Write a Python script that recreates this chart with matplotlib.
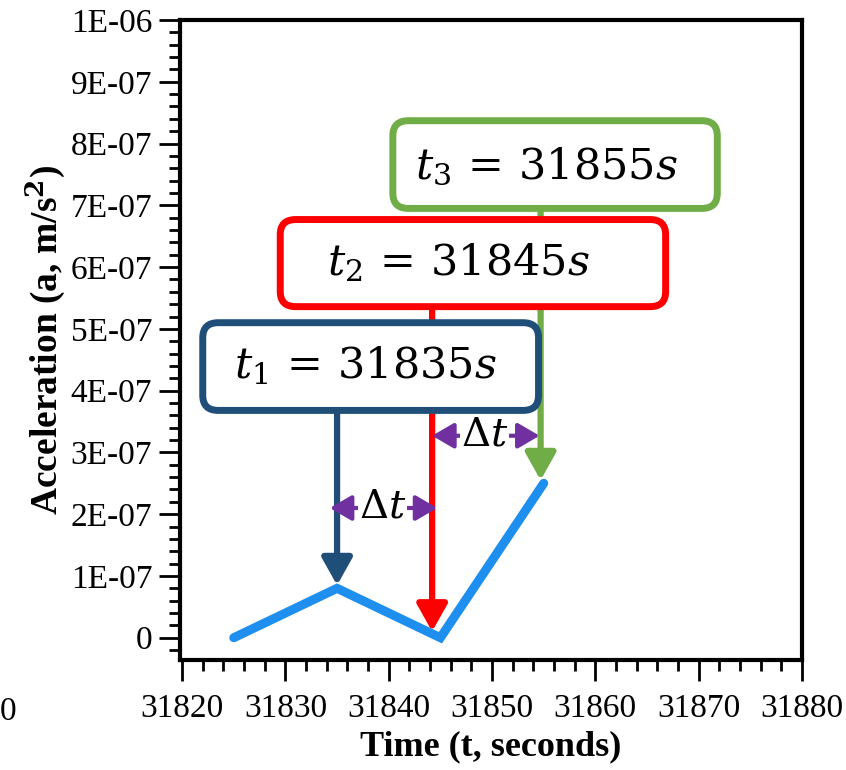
import matplotlib
matplotlib.use("Agg")
import matplotlib.pyplot as plt
from matplotlib.patches import FancyBboxPatch
from matplotlib.ticker import MultipleLocator, FixedLocator, FixedFormatter

plt.rcParams['font.family'] = ['Liberation Serif', 'DejaVu Serif']
plt.rcParams['mathtext.fontset'] = 'dejavuserif'

# ---- data ----
time_s = [31825, 31835, 31845, 31855]
accel = [0.0, 8.0e-8, 0.0, 2.5e-7]

y_ticks = [0, 1e-7, 2e-7, 3e-7, 4e-7, 5e-7, 6e-7, 7e-7, 8e-7, 9e-7, 1e-6]
y_tick_labels = ["0", "1E-07", "2E-07", "3E-07", "4E-07", "5E-07",
                 "6E-07", "7E-07", "8E-07", "9E-07", "1E-06"]
x_ticks = [31820, 31830, 31840, 31850, 31860, 31870, 31880]
x_tick_labels = ["31820", "31830", "31840", "31850", "31860", "31870", "31880"]

# annotation callouts: label, arrow x, arrow tip y, box (x0, x1, y0, y1), color
callout_labels = [r"$t_1\,=\,31835s$", r"$t_2\,=\,31845s$", r"$t_3\,=\,31855s$"]
callout_arrow_x = [31835.0, 31844.2, 31854.7]
callout_tip_y = [0.85e-7, 0.1e-7, 2.55e-7]
callout_box_x = [(31822.0, 31854.5), (31829.5, 31866.8), (31840.4, 31871.8)]
callout_box_y = [(3.68e-7, 5.1e-7), (5.36e-7, 6.77e-7), (6.95e-7, 8.37e-7)]
callout_text_xy = [(31837.7, 4.39e-7), (31846.7, 6.07e-7), (31855.3, 7.63e-7)]
callout_colors = ["#1F4E79", "#FF0000", "#70AD47"]

dt_spans = [(31834.3, 31844.7, 2.1e-7), (31844.2, 31854.6, 3.27e-7)]
dt_text_x = [31839.4, 31849.3]

fig = plt.figure(figsize=(8.46, 7.70), dpi=100)
ax = fig.add_axes([0.2128, 0.1429, 0.7352, 0.8311])

ax.set_xlim(31819.8, 31880)
ax.set_ylim(-3.6e-8, 1e-6)

ax.plot(time_s, accel, color="#1E8FEF", lw=6.5, solid_capstyle="round",
        solid_joinstyle="miter", zorder=2)

# aspect factor for rounded corners in data units
asp = 1.62e-8
zb = 3
for lab, ax_x, tip, bx, by, txy, col in zip(callout_labels[::-1], callout_arrow_x[::-1],
                                             callout_tip_y[::-1], callout_box_x[::-1],
                                             callout_box_y[::-1], callout_text_xy[::-1],
                                             callout_colors[::-1]):
    ax.annotate("", xy=(ax_x, tip), xytext=(ax_x, by[0]),
                arrowprops=dict(arrowstyle="-|>,head_length=0.75,head_width=0.42",
                                lw=4.5, color=col, shrinkA=0, shrinkB=0,
                                mutation_scale=22),
                zorder=zb)
    box = FancyBboxPatch((bx[0], by[0]), bx[1] - bx[0], by[1] - by[0],
                         boxstyle="round,pad=0,rounding_size=1.5",
                         mutation_aspect=asp, facecolor="white",
                         edgecolor=col, lw=5, zorder=zb + 1)
    ax.add_patch(box)
    ax.text(txy[0], txy[1], lab, fontsize=31, ha="center", va="center",
            zorder=zb + 2)
    zb += 3

for (x0, x1, y), tx in zip(dt_spans, dt_text_x):
    ax.annotate("", xy=(x0, y), xytext=(x1, y),
                arrowprops=dict(arrowstyle="<|-|>,head_length=0.6,head_width=0.35",
                                lw=3, color="#7030A0", shrinkA=0, shrinkB=0,
                                mutation_scale=22),
                zorder=20)
    ax.text(tx, y, r"$\Delta t$", fontsize=29, ha="center", va="center",
            zorder=21, bbox=dict(boxstyle="square,pad=0.02", fc="white", ec="none"))

ax.xaxis.set_major_locator(FixedLocator(x_ticks))
ax.xaxis.set_major_formatter(FixedFormatter(x_tick_labels))
ax.yaxis.set_major_locator(FixedLocator(y_ticks))
ax.yaxis.set_major_formatter(FixedFormatter(y_tick_labels))
ax.xaxis.set_minor_locator(MultipleLocator(2))
ax.yaxis.set_minor_locator(MultipleLocator(2e-8))

for s in ax.spines.values():
    s.set_linewidth(3)
ax.tick_params(which="major", direction="out", length=15, width=2,
               labelsize=24, top=False, right=False)
ax.tick_params(axis="x", which="major", pad=9)
ax.tick_params(axis="y", which="major", pad=5)
ax.tick_params(which="minor", direction="out", length=8, width=2,
               top=False, right=False)

ax.set_xlabel("Time (t, seconds)", fontsize=26, fontweight="bold", labelpad=5)
ax.set_ylabel("Acceleration (a, m/s$^\\mathbf{2}$)", fontsize=27, fontweight="bold", labelpad=2)

fig.text(0.009, 0.075, "0", fontsize=24, ha="center", va="center")

fig.savefig("out.png", dpi=100)
